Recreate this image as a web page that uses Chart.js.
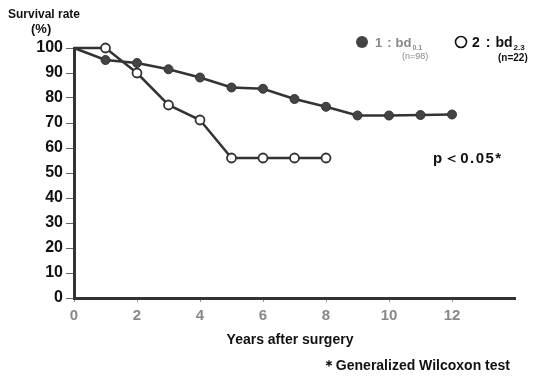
<!DOCTYPE html>
<html>
<head>
<meta charset="utf-8">
<script src="https://cdn.jsdelivr.net/npm/chart.js@4"></script>
<style>
  body { margin: 0; background: #fff; }
  #wrap { width: 548px; height: 377px; position: relative; }
</style>
</head>
<body>
<div id="wrap"><canvas id="myChart" width="548" height="377"></canvas></div>
<script>
// data
const years = [0, 1, 2, 3, 4, 5, 6, 7, 8, 9, 10, 11, 12];
const bd01 = [100, 95.2, 94, 91.5, 88.2, 84.2, 83.7, 79.6, 76.5, 73, 73, 73.2, 73.4];
const years2 = [0, 1, 2, 3, 4, 5, 6, 7, 8];
const bd23 = [100, 100, 90, 77.2, 71.2, 56, 56, 56, 56];
const yTicks = [0, 10, 20, 30, 40, 50, 60, 70, 80, 90, 100];
const xTicks = [0, 2, 4, 6, 8, 10, 12];

const ink = '#333';
const bold = '"Liberation Sans", Arial, sans-serif';

function pts(xs, ys) {
  return xs.map((x, i) => ({ x: x, y: ys[i] }));
}
function radii(n) {
  return Array.from({ length: n }, (_, i) => i === 0 ? 0 : 4.5);
}

// writes a run of text pieces left to right, returns end x
function run(c, x, y, parts) {
  parts.forEach(p => {
    c.font = p.font;
    c.fillText(p.t, x, y + (p.dy || 0));
    x += c.measureText(p.t).width + (p.gap || 0);
  });
  return x;
}

// extra texts: axis caption, legend, p value, footnotes
const notes = {
  id: 'notes',
  afterDraw(chart) {
    const c = chart.ctx;
    c.save();
    c.textBaseline = 'alphabetic';
    c.textAlign = 'left';
    c.fillStyle = '#111';
    c.font = 'bold 12px ' + bold;
    c.fillText('Survival rate', 8, 18);
    c.font = 'bold 13px ' + bold;
    c.fillText('(%)', 31, 33);

    // legend item 1 (faded print)
    c.fillStyle = '#444';
    c.beginPath(); c.arc(362, 42, 6, 0, Math.PI * 2); c.fill();
    c.fillStyle = '#888';
    run(c, 375, 47, [
      { t: '1', font: 'bold 13px ' + bold, gap: 5 },
      { t: ':', font: 'bold 13px ' + bold, gap: 4 },
      { t: 'bd', font: 'bold 13px ' + bold, gap: 1 },
      { t: '0.1', font: 'bold 7px ' + bold, dy: 3 }
    ]);
    c.font = '9px ' + bold;
    c.fillText('(n=98)', 402, 59);

    // legend item 2
    c.strokeStyle = '#111'; c.lineWidth = 1.6;
    c.beginPath(); c.arc(461, 42, 5.5, 0, Math.PI * 2); c.stroke();
    c.fillStyle = '#111';
    run(c, 472, 47, [
      { t: '2', font: 'bold 14px ' + bold, gap: 6 },
      { t: ':', font: 'bold 14px ' + bold, gap: 5 },
      { t: 'bd', font: 'bold 14px ' + bold, gap: 1 },
      { t: '2.3', font: 'bold 8px ' + bold, dy: 3 }
    ]);
    c.font = 'bold 10px ' + bold;
    c.fillText('(n=22)', 498, 61);

    c.font = 'bold 15px ' + bold;
    c.letterSpacing = '1.5px';
    c.fillText('p＜0.05*', 433, 163);
    c.letterSpacing = '0px';

    c.textAlign = 'center';
    c.font = 'bold 14px ' + bold;
    c.fillText('Years after surgery', 290, 344);

    c.textAlign = 'right';
    c.font = 'bold 14px ' + bold;
    c.fillText('＊Generalized Wilcoxon test', 510, 370);
    c.restore();
  }
};

const ctx = document.getElementById('myChart');
const myChart = new Chart(ctx, {
  type: 'line',
  data: {
    datasets: [{
      label: '1 : bd0.1 (n=98)',
      data: pts(years, bd01),
      borderColor: ink,
      borderWidth: 2.5,
      backgroundColor: ink,
      pointBackgroundColor: '#444',
      pointBorderColor: ink,
      pointBorderWidth: 1,
      pointRadius: radii(years.length),
      clip: false
    }, {
      label: '2 : bd2.3 (n=22)',
      data: pts(years2, bd23),
      borderColor: ink,
      borderWidth: 2.5,
      backgroundColor: '#fff',
      pointBackgroundColor: '#fff',
      pointBorderColor: ink,
      pointBorderWidth: 1.8,
      pointRadius: radii(years2.length),
      clip: false
    }]
  },
  options: {
    responsive: false,
    animation: false,
    layout: { padding: { top: 48, right: 33, left: 0, bottom: 0 } },
    plugins: {
      legend: { display: false },
      tooltip: { enabled: false }
    },
    scales: {
      x: {
        type: 'linear',
        min: 0,
        max: 14,
        afterBuildTicks(scale) { scale.ticks = xTicks.map(v => ({ value: v })); },
        afterFit(scale) { scale.height = 79; },
        grid: { drawOnChartArea: false, drawTicks: true, tickLength: 4, color: '#999' },
        border: { display: true, color: ink, width: 3 },
        ticks: {
          color: '#888',
          font: { family: bold, size: 15, weight: 'bold' },
          padding: 5
        }
      },
      y: {
        min: 0,
        max: 100,
        afterBuildTicks(scale) { scale.ticks = yTicks.map(v => ({ value: v })); },
        afterFit(scale) { scale.width = 74; },
        grid: { drawOnChartArea: false, drawTicks: true, tickLength: 8, color: '#666' },
        border: { display: true, color: ink, width: 3 },
        ticks: {
          color: '#111',
          font: { family: bold, size: 16, weight: 'bold' },
          padding: 3
        }
      }
    }
  },
  plugins: [notes]
});
</script>
</body>
</html>
